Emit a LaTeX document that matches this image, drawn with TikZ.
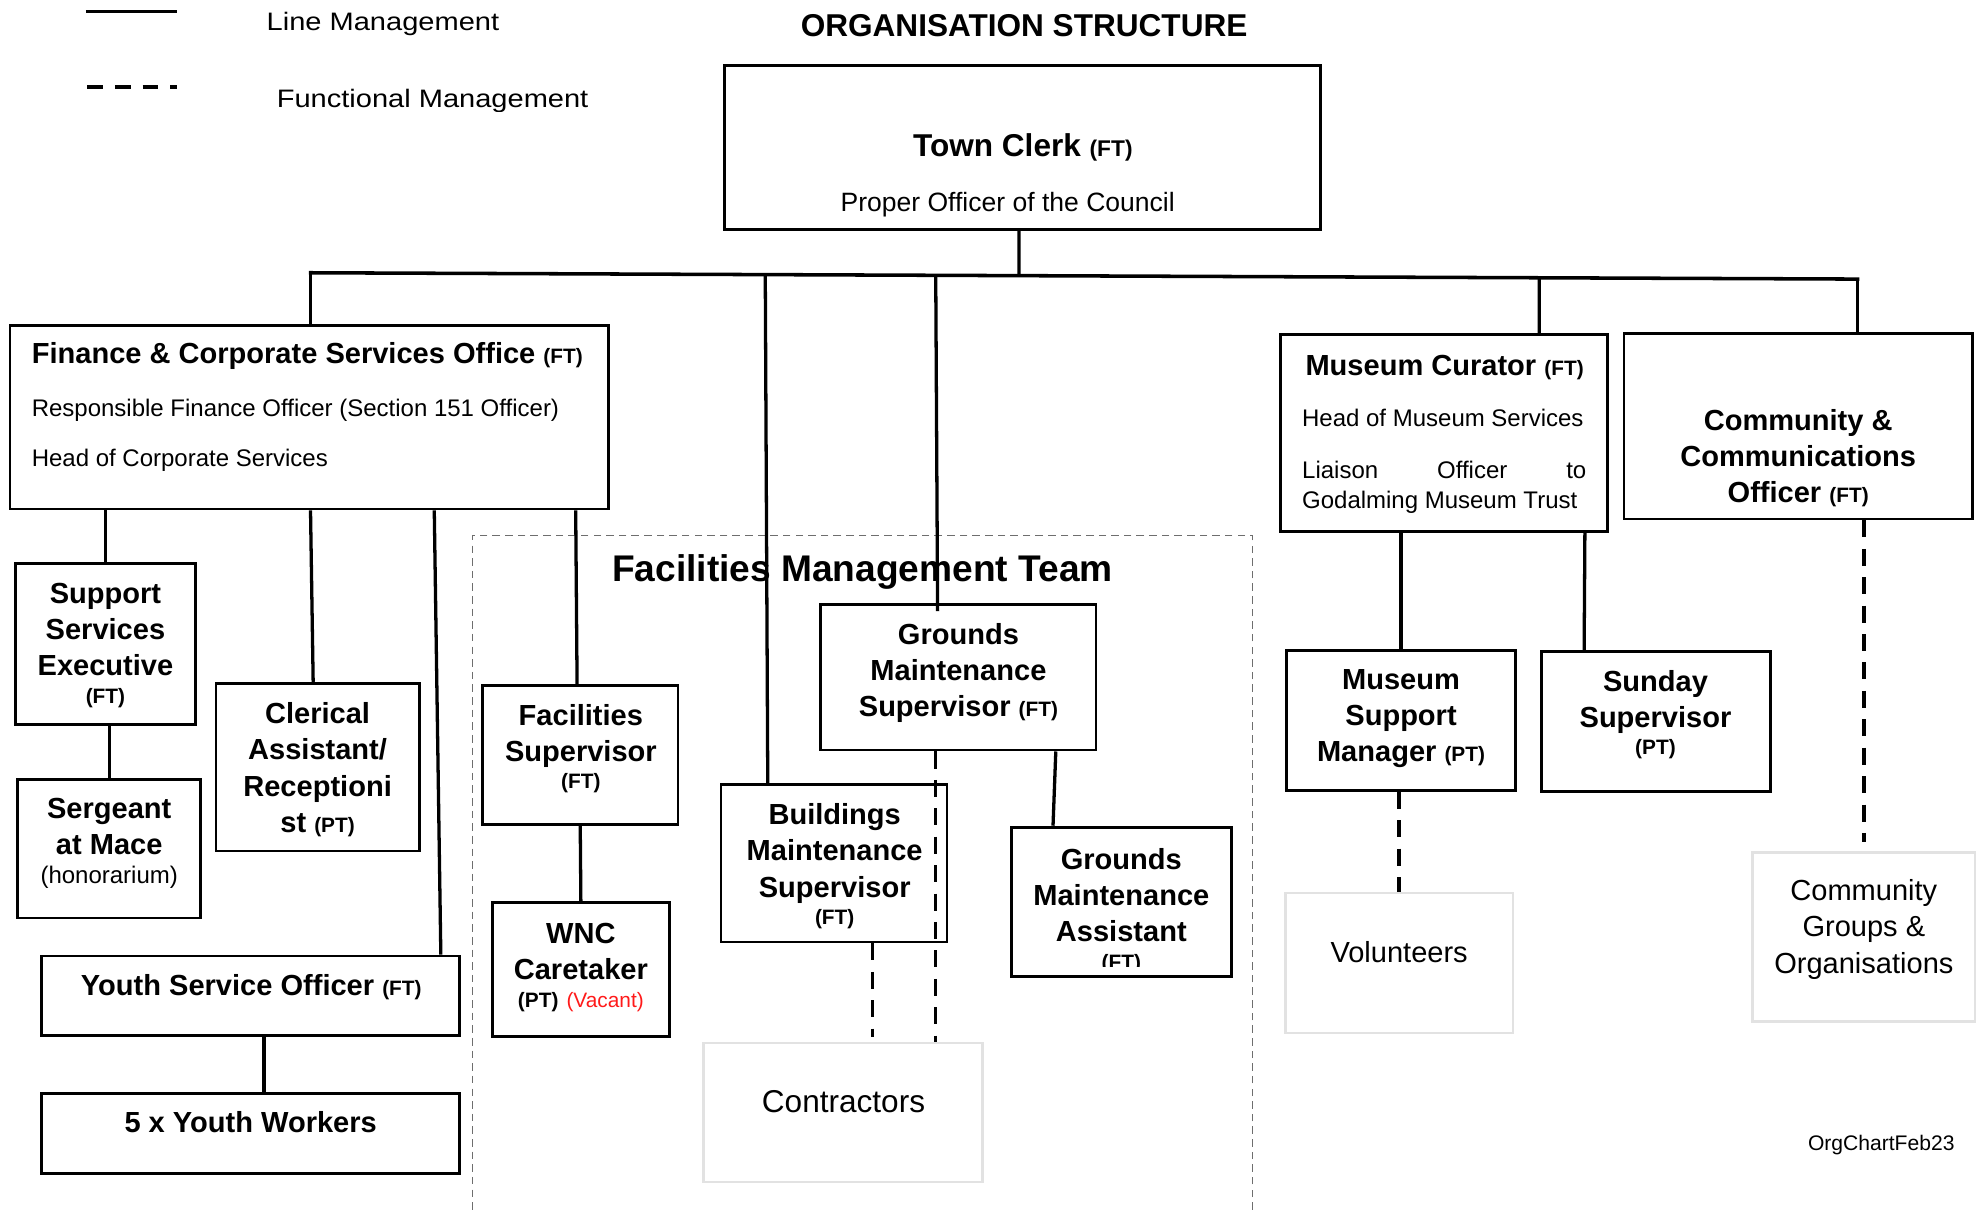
\documentclass[tikz,border=0pt]{standalone}
\usepackage{fontspec}
\setmainfont{Liberation Sans}
\usepackage{graphicx}
\usetikzlibrary{fit,calc}
\definecolor{softgray}{HTML}{E2E2E2}
\definecolor{teamgray}{HTML}{6E6E6E}
\definecolor{vacred}{HTML}{FF1A1A}
\newcommand{\setfs}[2]{\fontsize{#1}{#2}\selectfont}
\newcommand{\ftag}{\bfseries\setfs{16.5}{20}}
\begin{document}
\begin{tikzpicture}[x=1pt,y=-1pt,
  box/.style={draw=black,line width=2.2pt,inner sep=0pt},
  softbox/.style={draw=softgray,line width=2pt,inner sep=0pt},
  teambox/.style={draw=teamgray,line width=1pt,dash pattern=on 6pt off 4pt,inner sep=0pt},
  conn/.style={draw=black,line width=2.6pt},
  fconn/.style={draw=black,line width=2.8pt,dash pattern=on 13.5pt off 9pt},
  role/.style={font=\bfseries\setfs{23}{28.6},align=center,inner sep=0pt},
  plain/.style={font=\setfs{23}{28.6},align=center,inner sep=0pt},
  sub/.style={font=\setfs{19}{23},inner sep=0pt,anchor=base west},
  legendtext/.style={font=\setfs{20}{24},inner sep=0pt,anchor=base west},
]
\path[use as bounding box,fill=white] (0,0) rectangle (1568,961);

% ---------- legend ----------
\coordinate (lgA1) at (68,9);
\coordinate (lgA2) at (140,9);
\coordinate (lgB1) at (69,69);
\coordinate (lgB2) at (140,69);
\draw[conn] (lgA1) -- (lgA2);
\draw[conn,dash pattern=on 12.5pt off 9.5pt] (lgB1) -- (lgB2);
\node[legendtext] (lgAt) at (211,24) {\scalebox{1.15}[1]{Line Management}};
\begin{scope}
  \clip (200,55) rectangle (560,88);
  \node[legendtext] (lgBt) at (219,85) {\scalebox{1.15}[1]{Functional Management}};
\end{scope}

% ---------- title ----------
\node[font=\bfseries\setfs{25}{30},inner sep=0pt,anchor=base] (ttl) at (811,29) {ORGANISATION STRUCTURE};

% ---------- team container ----------
\node[teambox,fit={(374,424) (992,1000)}] (fmt) {};
\node[font=\bfseries\setfs{29.4}{35},inner sep=0pt,anchor=base] (fmtT) at (683,460.5) {Facilities Management Team};

% ---------- boxes ----------
\node[box,fit={(574,52) (1046,182)}] (tc) {};
\node[box,fit={(8,258) (482,403)}] (fcs) {};
\node[box,fit={(12,446) (155,574)}] (sse) {};
\node[box,fit={(14,617) (159,727)}] (sam) {};
\node[box,fit={(171,541) (332,674)}] (cla) {};
\node[box,fit={(33,757) (364,820)}] (yso) {};
\node[box,fit={(33,866) (364,929)}] (yw) {};
\node[box,fit={(382,543) (537,653)}] (fs) {};
\node[box,fit={(390,715) (530,821)}] (wnc) {};
\node[box,fit={(650,479) (868,594)}] (gms) {};
\node[box,fit={(571,621) (750,746)}] (bms) {};
\node[box,fit={(801,655) (975,773)}] (gma) {};
\node[softbox,fit={(557,826) (778,936)}] (con) {};
\node[box,fit={(1014,265) (1273,421)}] (mc) {};
\node[box,fit={(1019,515) (1200,626)}] (msm) {};
\node[softbox,fit={(1018,707) (1198,818)}] (vol) {};
\node[box,fit={(1221,516) (1402,627)}] (ss) {};
\node[box,fit={(1286,264) (1562,411)}] (cco) {};
\node[softbox,fit={(1388,675) (1564,809)}] (cgo) {};

% ---------- texts ----------
\node[font=\bfseries\setfs{25}{30},inner sep=0pt,anchor=base] (tcA) at (810,124) {Town Clerk {\bfseries\setfs{18}{20}(FT)}};
\node[font=\setfs{21}{25},inner sep=0pt,anchor=base] (tcB) at (798,167.5) {Proper Officer of the Council};

\node[font=\bfseries\setfs{23}{28},inner sep=0pt,anchor=base west] (fcsA) at (25,288.2) {Finance \& Corporate Services Office {\ftag (FT)}};
\node[sub] (fcsB) at (25,329.8) {Responsible Finance Officer (Section 151 Officer)};
\node[sub] (fcsC) at (25,369.8) {Head of Corporate Services};

\node[role] (sseT) at (83.5,511) {Support\\Services\\Executive\\[-7pt]{\ftag (FT)}};
\node[role] (samT) at (86.5,668) {Sergeant\\at Mace\\[-5.5pt]{\mdseries\setfs{19}{23}(honorarium)}};
\node[role] (claT) at (251.5,609.5) {Clerical\\Assistant/\\Receptioni\\st {\ftag (PT)}};
\node[font=\bfseries\setfs{23}{28},inner sep=0pt,anchor=base] (ysoT) at (199,788) {Youth Service Officer {\ftag (FT)}};
\node[font=\bfseries\setfs{23}{28},inner sep=0pt,anchor=base] (ywT) at (198.5,897) {5 x Youth Workers};

\node[role] (fsT) at (460,593) {Facilities\\Supervisor\\[-7pt]{\ftag (FT)}};
\node[role] (wncT) at (460,766) {WNC\\Caretaker\\[-6.5pt]{\ftag (PT)} {\mdseries\setfs{16.5}{20}\color{vacred}(Vacant)}};
\node[role] (gmsT) at (759,533) {Grounds\\Maintenance\\Supervisor {\ftag (FT)}};
\node[role] (bmsT) at (661,686) {Buildings\\Maintenance\\Supervisor\\[-7pt]{\ftag (FT)}};
\begin{scope}
  \clip (gma.north west) rectangle ([yshift=9pt]gma.south east);
  \node[role] (gmaT) at (888,721.5) {Grounds\\Maintenance\\Assistant\\[-6pt]{\ftag (FT)}};
\end{scope}
\node[font=\setfs{25}{30},inner sep=0pt,anchor=base] (conT) at (668,881) {Contractors};

\node[font=\bfseries\setfs{23}{28},inner sep=0pt,anchor=base] (mcA) at (1144,297.2) {Museum Curator {\ftag (FT)}};
\node[sub] (mcB) at (1031,338) {Head of Museum Services};
\node[sub] (mcC) at (1031,379) {\hbox to 225pt{Liaison\hfill Officer\hfill to}};
\node[sub] (mcD) at (1031,403) {Godalming Museum Trust};

\node[role] (msmT) at (1109.5,569) {Museum\\Support\\Manager {\ftag (PT)}};
\node[role] (ssT) at (1311,566) {Sunday\\Supervisor\\[-7pt]{\ftag (PT)}};
\node[font=\setfs{23}{28},inner sep=0pt,anchor=base] (volT) at (1108,762) {Volunteers};
\node[role] (ccoT) at (1424,363) {Community \&\\Communications\\Officer {\ftag (FT)}};
\node[plain] (cgoT) at (1476,736) {Community\\Groups \&\\Organisations};

\node[font=\setfs{16.7}{20},inner sep=0pt,anchor=base east] (stamp) at (1548,911) {OrgChartFeb23};

% ---------- connectors ----------
\coordinate (busL) at (246,216);
\coordinate (busR) at (1471,221);
\draw[conn,line width=2.8pt,line cap=rect] (busL) -- (busR);
\draw[conn] ([xshift=-3pt]tc.south) -- ($(busL)!0.458!(busR)$);
\draw[conn] (busL) -- ([xshift=1pt]fcs.north);
\draw[conn] ($(busL)!0.2939!(busR)$) -- ([xshift=-52.5pt]bms.north);
\draw[conn] ($(busL)!0.4041!(busR)$) -- ([xshift=-16.5pt,yshift=-6pt]gms.north);
\draw[conn] ($(busL)!0.7943!(busR)$) -- ([xshift=75.5pt]mc.north);
\draw[conn] (busR) -- ([xshift=47pt]cco.north);

\draw[conn] (sse.north |- fcs.south) -- (sse.north);
\draw[conn] ([xshift=239pt]fcs.south west) -- ([xshift=-3.5pt]cla.north);
\draw[conn] ([xshift=337pt]fcs.south west) -- ([xshift=-16pt]yso.north east);
\draw[conn] ([xshift=449pt]fcs.south west) -- ([xshift=-2.5pt]fs.north);
\draw[conn] (sam.north |- sse.south) -- (sam.north);
\draw[conn] ([xshift=10.5pt]yso.south) -- ([xshift=10.5pt]yw.north);
\draw[conn] (fs.south) -- (wnc.north);

\draw[conn] ([xshift=-33pt]gms.south east) -- ([xshift=34pt]gma.north west);
\draw[fconn] ([xshift=-18pt]gms.south) -- ([xshift=73.5pt]con.north);
\draw[fconn] ([xshift=30.5pt]bms.south) -- ([xshift=23.5pt,yshift=4pt]con.north);

\draw[conn] (msm.north |- mc.south) -- (msm.north);
\draw[conn] ([xshift=-19pt]mc.south east) -- ([xshift=-57pt]ss.north);
\draw[fconn] (vol.north |- msm.south) -- (vol.north);
\draw[fconn,shorten >=7pt] ([xshift=52pt]cco.south) -- (cgo.north);
\end{tikzpicture}
\end{document}
